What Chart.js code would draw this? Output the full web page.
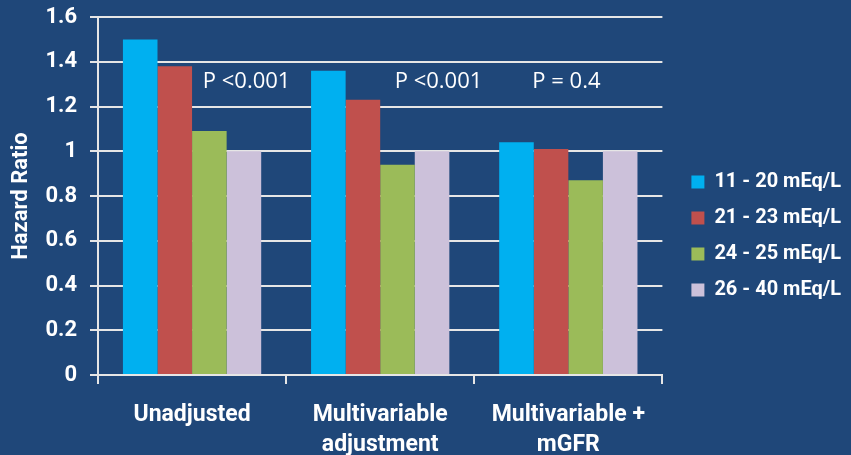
<!DOCTYPE html>
<html>
<head>
<meta charset="utf-8">
<script src="https://cdn.jsdelivr.net/npm/chart.js@4"></script>
<style>
  html, body { margin: 0; padding: 0; background: #1F4779; }
  #wrap { width: 851px; height: 455px; }
</style>
</head>
<body>
<div id="wrap"><canvas id="hrChart" width="851" height="455"></canvas></div>
<script>
// chart data
const categories = ['Unadjusted', ['Multivariable', 'adjustment'], ['Multivariable +', 'mGFR']];
const seriesNames = ['11 - 20 mEq/L', '21 - 23 mEq/L', '24 - 25 mEq/L', '26 - 40 mEq/L'];
const bicarb11to20 = [1.50, 1.36, 1.04];
const bicarb21to23 = [1.38, 1.23, 1.01];
const bicarb24to25 = [1.09, 0.94, 0.87];
const bicarb26to40 = [1.00, 1.00, 1.00];
const seriesColors = ['#00B0F0', '#C0504D', '#9BBB59', '#CCC1DA'];

// p-value notes: [text, category position, y value]
const pNotes = [
    ['P <0.001', 0.29, 1.31],
    ['P <0.001', 1.31, 1.31],
    ['P = 0.4', 1.99, 1.31]
];

const white = '#FFFFFF';
const gridColor = '#E6E6E6';
const boldFont = 'Roboto';
const legendShift = 13; // extra room between the plot and the legend

//Draws the p-value labels on top of the bars
const pNotesPlugin = {
    id: 'pNotes',
    afterDatasetsDraw(chart) {
        const ctx = chart.ctx;
        const xs = chart.scales.x;
        const ys = chart.scales.y;
        ctx.save();
        ctx.fillStyle = white;
        ctx.font = '22px "Open Sans"';
        ctx.textAlign = 'center';
        ctx.textBaseline = 'middle';
        pNotes.forEach(n => {
            ctx.fillText(n[0], xs.getPixelForValue(n[1]), ys.getPixelForValue(n[2]));
        });
        ctx.restore();
    }
};

//Pushes the legend a bit further right of the plot
const legendGapPlugin = {
    id: 'legendGap',
    beforeLayout(chart) {
        const lg = chart.legend;
        if (!lg || lg._gapDone) return;
        const fit = lg.fit;
        const draw = lg.draw;
        lg.fit = function () { fit.call(this); this.width += legendShift; };
        lg.draw = function () {
            this.ctx.save();
            this.ctx.translate(legendShift, 0);
            draw.call(this);
            this.ctx.restore();
        };
        lg._gapDone = true;
    }
};

const allSeries = [bicarb11to20, bicarb21to23, bicarb24to25, bicarb26to40];

const ctx = document.getElementById('hrChart').getContext('2d');
const hrChart = new Chart(ctx, {
    type: 'bar',
    data: {
        labels: categories,
        datasets: allSeries.map((vals, i) => ({
            label: seriesNames[i],
            data: vals,
            backgroundColor: seriesColors[i],
            borderWidth: 0,
            barPercentage: 1.0,
            categoryPercentage: 0.735
        }))
    },
    options: {
        responsive: false,
        animation: false,
        layout: { padding: { top: 17, right: 0, left: 6, bottom: 0 } },
        plugins: {
            tooltip: { enabled: false },
            legend: {
                position: 'right',
                labels: {
                    color: white,
                    font: { family: boldFont, size: 20, weight: 'bold' },
                    boxWidth: 13,
                    boxHeight: 13,
                    padding: 16
                }
            }
        },
        scales: {
            x: {
                afterFit: scale => { scale.height = 80; },
                grid: {
                    display: true,
                    drawOnChartArea: false,
                    color: gridColor,
                    lineWidth: 2,
                    tickLength: 9,
                    offset: true
                },
                border: { color: gridColor, width: 2 },
                ticks: {
                    color: white,
                    font: { family: boldFont, size: 23, weight: 'bold', lineHeight: 1.3 },
                    padding: 16,
                    maxRotation: 0
                }
            },
            y: {
                min: 0,
                max: 1.6,
                afterFit: scale => { scale.width = 92; scale.paddingTop = 0; },
                ticks: {
                    stepSize: 0.2,
                    color: white,
                    font: { family: boldFont, size: 22, weight: 'bold' },
                    padding: 13,
                    callback: v => Math.round(v * 10) / 10
                },
                grid: { color: gridColor, lineWidth: 2, tickLength: 8 },
                border: { color: gridColor, width: 2 },
                title: {
                    display: true,
                    text: 'Hazard Ratio',
                    color: white,
                    font: { family: boldFont, size: 22, weight: 'bold' },
                    padding: { top: 2, bottom: 8 }
                }
            }
        }
    },
    plugins: [pNotesPlugin, legendGapPlugin]
});
</script>
</body>
</html>
